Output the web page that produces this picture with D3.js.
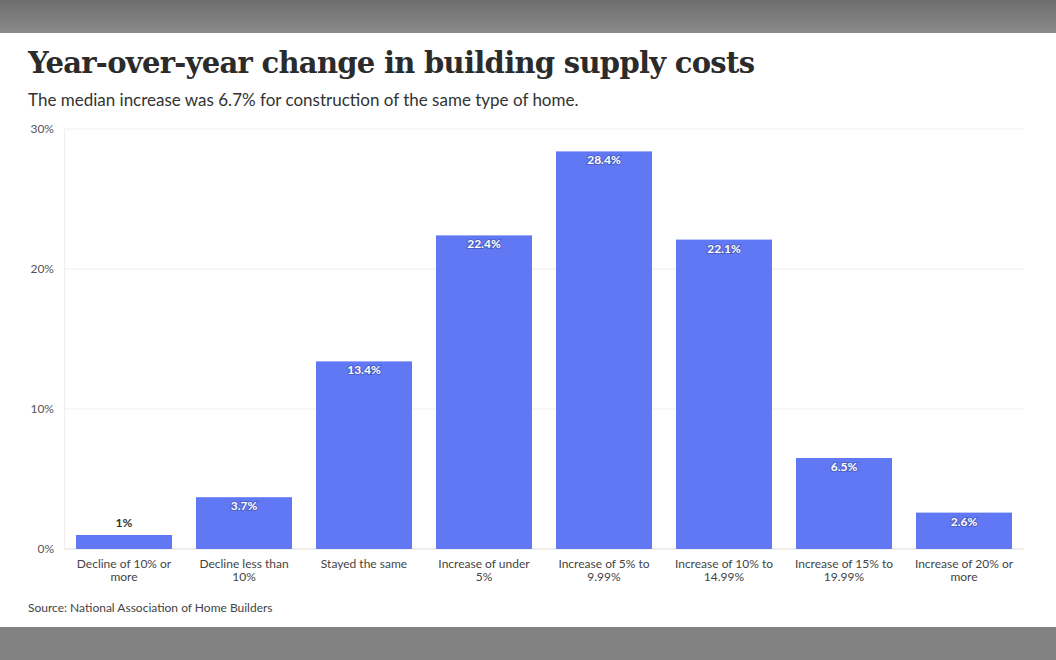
<!DOCTYPE html>
<html><head><meta charset="utf-8">
<script src="https://cdn.jsdelivr.net/npm/d3@7"></script>
<style>body{margin:0;background:#808080;}</style>
</head><body>
<svg id="c" width="1056" height="660"></svg>
<script>
const categories=["Decline of 10% or more","Decline less than 10%","Stayed the same","Increase of under 5%","Increase of 5% to 9.99%","Increase of 10% to 14.99%","Increase of 15% to 19.99%","Increase of 20% or more"];
const catLines=[["Decline of 10% or","more"],["Decline less than","10%"],["Stayed the same"],["Increase of under","5%"],["Increase of 5% to","9.99%"],["Increase of 10% to","14.99%"],["Increase of 15% to","19.99%"],["Increase of 20% or","more"]];
const values=[1,3.7,13.4,22.4,28.4,22.1,6.5,2.6];
const valueLabels=["1%","3.7%","13.4%","22.4%","28.4%","22.1%","6.5%","2.6%"];
const yTicks=[0,10,20,30];

const svg=d3.select("#c");
const defs=svg.append("defs");
const g1=defs.append("linearGradient").attr("id","gt").attr("x1",0).attr("x2",0).attr("y1",0).attr("y2",1);
g1.append("stop").attr("offset",0).attr("stop-color","#6e6e6e");g1.append("stop").attr("offset",1).attr("stop-color","#8a8a8a");
svg.append("rect").attr("x",0).attr("y",0).attr("width",1056).attr("height",33).attr("fill","url(#gt)");
svg.append("rect").attr("x",0).attr("y",627).attr("width",1056).attr("height",33).attr("fill","#828282");
svg.append("rect").attr("x",0).attr("y",33).attr("width",1056).attr("height",594).attr("fill","#fff");

svg.append("text").attr("x",28).attr("y",73).text("Year-over-year change in building supply costs")
 .attr("font-family","DejaVu Serif").attr("font-weight","bold").attr("font-size",29).attr("fill","#2b2b2b").attr("textLength",727);
svg.append("text").attr("x",28).attr("y",106).text("The median increase was 6.7% for construction of the same type of home.")
 .attr("font-family","Lato").attr("font-size",17).attr("fill","#333");

const x=d3.scaleBand().domain(categories).range([64,1024]).paddingInner(0.2).paddingOuter(0.1);
const y=d3.scaleLinear().domain([0,30]).range([549,129]);

const grid=svg.append("g");
grid.selectAll("line").data(yTicks).join("line").attr("x1",64).attr("x2",1024)
 .attr("y1",d=>y(d)).attr("y2",d=>y(d)).attr("stroke",d=>d===0?"#ddd":"#eee");
svg.append("line").attr("x1",64.5).attr("x2",64.5).attr("y1",129).attr("y2",549).attr("stroke","#eee");
grid.selectAll("text").data(yTicks).join("text").attr("x",54).attr("y",d=>y(d)+4).attr("text-anchor","end")
 .text(d=>d+"%").attr("font-family","Lato").attr("font-size",12).attr("fill","#555");

svg.selectAll("rect.bar").data(values).join("rect").attr("class","bar")
 .attr("x",(d,i)=>x(categories[i])).attr("width",x.bandwidth())
 .attr("y",d=>y(d)).attr("height",d=>y(0)-y(d)).attr("fill","#6078f3");

svg.selectAll("text.vl").data(values).join("text").attr("class","vl")
 .attr("x",(d,i)=>x(categories[i])+x.bandwidth()/2)
 .attr("y",d=>d<2?y(d)-8:y(d)+13).attr("text-anchor","middle")
 .text((d,i)=>valueLabels[i]).attr("font-family","Lato").attr("font-weight","bold").attr("font-size",12)
 .attr("fill",d=>d<2?"#333":"#fff")
 .attr("stroke",d=>d<2?"none":"#3a4aa0").attr("stroke-width",2).attr("paint-order","stroke").attr("stroke-opacity",0.5);

const xl=svg.append("g");
categories.forEach((c,i)=>{
 const t=xl.append("text").attr("x",x(c)+x.bandwidth()/2).attr("y",568).attr("text-anchor","middle")
  .attr("font-family","Lato").attr("font-size",12).attr("fill","#444");
 catLines[i].forEach((l,j)=>t.append("tspan").attr("x",x(c)+x.bandwidth()/2).attr("dy",j?13:0).text(l));
});
svg.append("text").attr("x",28).attr("y",612).text("Source: National Association of Home Builders")
 .attr("font-family","Lato").attr("font-size",12).attr("fill","#444");
</script>
</body></html>
